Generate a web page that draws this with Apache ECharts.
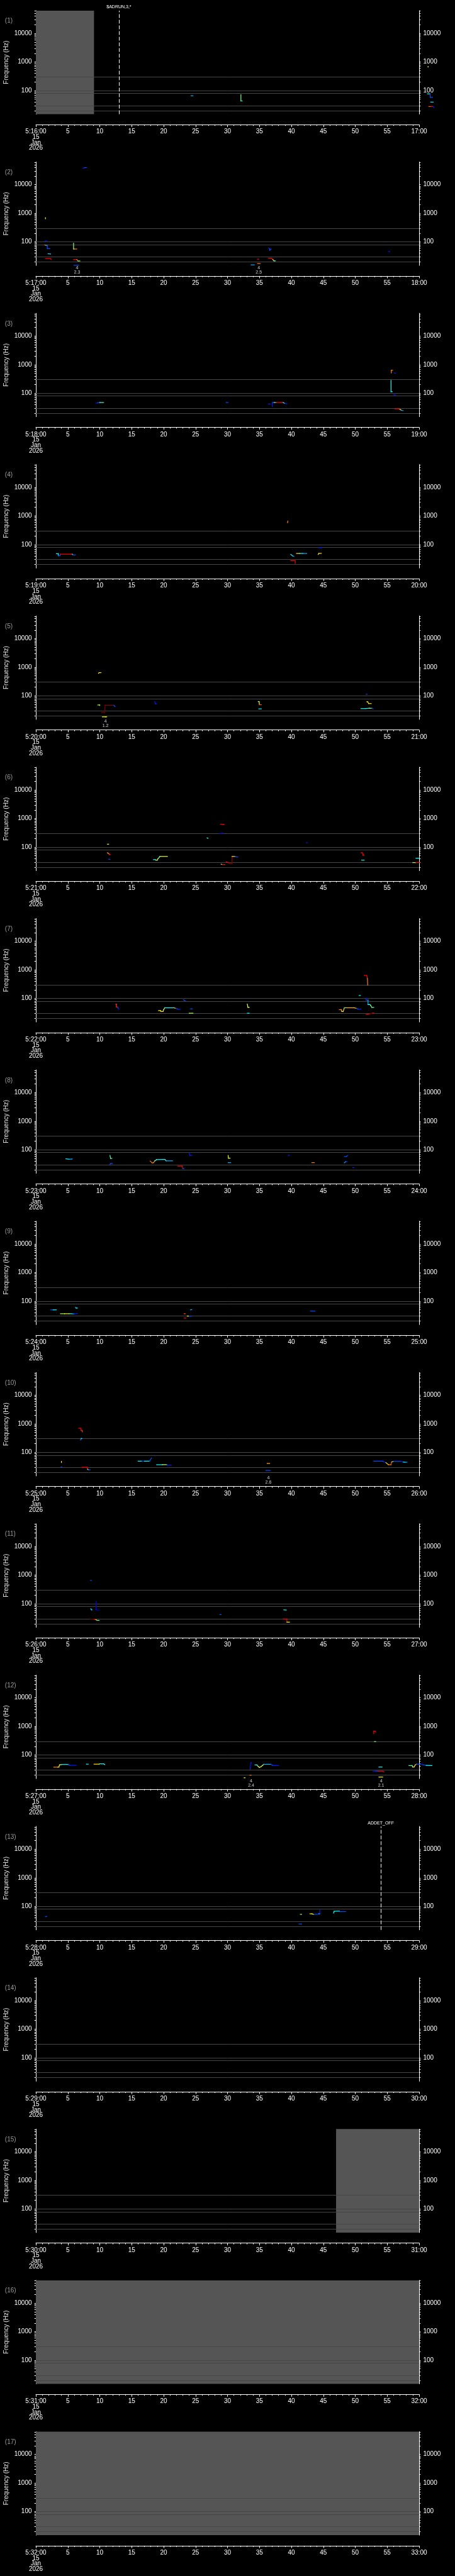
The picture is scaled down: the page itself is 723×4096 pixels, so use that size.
<!DOCTYPE html>
<html>
<head>
<meta charset="utf-8">
<title>Frequency panels 5:16 - 5:33</title>
<script src="https://cdn.jsdelivr.net/npm/echarts@6/dist/echarts.min.js"></script>
<style>
html, body { margin: 0; padding: 0; background: #000; }
#chart { width: 723px; height: 4096px; }
</style>
</head>
<body>
<div id="chart"></div>
<script>
// ---- data ----
var panelMinutes = [16, 17, 18, 19, 20, 21, 22, 23, 24, 25, 26, 27, 28, 29, 30, 31, 32];
var freqMin = 15, freqMax = 62500;
var guideFreqs = [20, 30, 80, 100, 300];
var freqLabels = [100, 1000, 10000];
var freqTicks = [20, 30, 40, 50, 60, 70, 80, 90, 100, 200, 300, 400, 500, 600, 700, 800, 900,
    1000, 2000, 3000, 4000, 5000, 6000, 7000, 8000, 9000, 10000, 20000, 30000, 40000, 50000, 60000];

// [panel index, from sec, to sec]
var shadeSpans = [[0, 0, 9.1], [14, 47, 60], [15, 0, 60], [16, 0, 60]];
// [panel index, sec, text]
var eventLines = [[0, 13, '$ADRUN,3,*'], [12, 54, 'ADDET_OFF']];
// [panel index, sec, line1, line2]
var notes = [[1, 6.45, '4', '2.3'], [1, 34.9, '4', '2.5'], [4, 10.9, '4', '1.2'],
    [9, 36.4, '4', '2.6'], [11, 33.7, '4', '2.4'], [11, 54.05, '4', '2.1']];

// tracks: list of [sec, Hz, level 0..1]
var tracks1 = [
    [[24.3, 66, .3], [24.6, 66, .3]],
    [[32.1, 72, .5], [32.1, 43.5, .375], [32.3, 43.5, .3]],
    [[61.4, 700, .6], [61.4, 660, .6]],
    [[61.3, 77, .4], [61.7, 77, .2], [61.75, 58, .2], [62.1, 58, .35]],
    [[61.8, 39.6, .35], [62.2, 39.6, .15]],
    [[61.5, 27.7, .8], [61.9, 27.7, .9], [62.2, 27.7, .15], [62.3, 25.4, .15]]
];
var tracks2 = [
    [[7.4, 37000, .15], [7.6, 39500, .2], [7.9, 39500, .25]],
    [[1.5, 700, .6], [1.5, 640, .4]],
    [[1.45, 108, .15], [1.7, 108, .15]],
    [[1.4, 78, .75], [1.6, 76, .3], [1.8, 76, .2], [1.8, 58, .2], [2.2, 58, .3]],
    [[1.9, 38.5, .35], [2.3, 38, .15]],
    [[1.5, 26, .875], [2.3, 26, .875], [2.4, 24.2, .15]],
    [[5.9, 91, .5], [5.9, 56.4, .5], [6.0, 56.4, .75], [6.4, 56.4, .6]],
    [[5.9, 24.2, .875], [6.4, 24.2, .75], [6.6, 21.5, .5], [6.9, 21.5, .3]],
    [[5.95, 15.2, .2], [6.7, 15.2, .3]],
    [[33.7, 15.7, .3], [34.2, 15.7, .875]],
    [[34.7, 24.8, .875], [34.9, 24.8, .8]],
    [[34.7, 17.5, .75], [35.1, 17.5, .6]],
    [[36.4, 61, .15], [36.6, 57, .2], [36.6, 51, .2], [36.8, 56, .25]],
    [[36.4, 26.9, .875], [36.9, 26.9, .875], [37.1, 24, .6], [37.3, 21.7, .45], [37.5, 21.7, .3]],
    [[55.2, 46, .15], [55.4, 46, .15]]
];
var tracks3 = [
    [[9.4, 44.7, .15], [9.7, 46.5, .2], [10, 47.3, .45], [10.6, 47.3, .6]],
    [[29.8, 47.3, .2], [30.1, 47.3, .2]],
    [[36.4, 42.2, .15], [36.7, 42.2, .15]],
    [[37.0, 34.2, .15], [37.0, 47.3, .2], [37.3, 47.3, .45], [37.6, 47.3, .875], [38.4, 47.3, .875], [38.7, 47.3, .4], [39.0, 44, .15], [39.3, 42.2, .15]],
    [[55.85, 636, .75], [55.65, 636, .75], [55.65, 514, .8]],
    [[56.1, 514, .15], [56.3, 500, .15]],
    [[55.6, 281, .375], [55.6, 113, .375], [55.8, 113, .375]],
    [[56.0, 89, .15], [56.3, 86, .15]],
    [[56.2, 28.5, .875], [56.8, 28.5, .875], [57.0, 27, .6], [57.2, 25.5, .3], [57.5, 24.7, .15]]
];
var tracks4 = [
    [[3.2, 48, .375], [3.5, 48, .375], [3.5, 40.5, .2], [3.8, 40.5, .2], [3.8, 46, .875], [5.5, 46, .875], [5.7, 46, .375], [5.8, 43.4, .2], [6.2, 43.4, .2]],
    [[39.45, 663, .75], [39.4, 576, .8]],
    [[39.9, 45.3, .375], [40.2, 40, .3], [40.4, 38.3, .15]],
    [[39.9, 27.2, .875], [40.6, 27.2, .875], [40.6, 21.8, .5]],
    [[40.8, 48.7, .65], [41.3, 48.7, .4], [41.8, 48.7, .3], [42.4, 48.7, .375]],
    [[44.2, 45, .65], [44.3, 49, .65], [44.7, 49, .2]],
    [[44.3, 77.5, .15], [44.8, 77.5, .2]]
];
var tracks5 = [
    [[9.8, 610, .65], [9.9, 647, .65], [10.2, 647, .6]],
    [[9.7, 48, .55], [10.0, 48, .55], [10.0, 46, .5]],
    [[10.3, 26.2, 1], [10.75, 26.2, 1], [10.85, 46.7, 1], [12.1, 46.7, 1], [12.2, 46.7, .2], [12.4, 42, .15]],
    [[10.4, 18.4, .625], [10.9, 18.4, .625], [11.1, 18.4, .2]],
    [[18.6, 63, .15], [18.7, 52, .15], [18.9, 52, .15]],
    [[34.8, 63, .55], [34.95, 63, .6], [35.0, 49, .8], [35.3, 49, .875]],
    [[34.9, 35, .375], [35.3, 35, .3]],
    [[51.7, 113.5, .2], [51.85, 113.5, .2]],
    [[51.8, 62, .65], [51.95, 62, .65], [52.1, 53.6, .65], [52.5, 53.6, .2]],
    [[50.9, 35.8, .375], [51.6, 35.8, .375], [52.2, 36.8, .55], [52.6, 36.8, .2], [52.8, 35, .15]]
];
var tracks6 = [
    [[11.2, 127, .6], [11.4, 127, .4]],
    [[11.2, 63.7, .7], [11.4, 60, .8], [11.5, 55, .875], [11.7, 55, .875]],
    [[11.4, 38.3, .2], [11.6, 37.5, .15]],
    [[18.4, 36.7, .375], [18.7, 36.7, .4], [18.8, 35, .65], [19.0, 35, .65], [19.1, 39, .5], [19.3, 44, .45], [19.4, 47.3, .6], [20.6, 47.3, .625]],
    [[26.8, 211, .4], [26.95, 205, .375]],
    [[28.9, 636, .875], [29.3, 620, .875], [29.5, 620, .875]],
    [[28.8, 295, .15], [29.3, 305, .2]],
    [[29.0, 25.5, .5], [29.2, 24.8, .875], [29.6, 24.8, .875]],
    [[29.8, 30.6, .875], [30.2, 28, 1], [30.4, 26.5, 1], [30.7, 26.5, 1], [30.7, 47.3, .65], [31.2, 47.3, .2], [31.6, 45, .15]],
    [[42.35, 144, .15], [42.5, 144, .15]],
    [[50.9, 63.7, .875], [51.1, 63.7, .875], [51.2, 58, .875], [51.2, 52.2, .875], [51.4, 52.2, .875]],
    [[51.0, 35, .375], [51.4, 35, .375]],
    [[59.5, 41, .375], [60.0, 41, .2]],
    [[59.0, 28.8, .55], [59.5, 28.8, .875], [60.1, 28.8, .875]]
];
var tracks7 = [
    [[12.5, 63.6, .875], [12.6, 63.6, .8], [12.6, 50, .875], [12.8, 50, .2], [12.9, 45, .15], [13.0, 42, .15]],
    [[19.2, 37.7, .625], [19.5, 37.7, .65], [19.6, 35.1, .65], [19.9, 35.1, .6], [20.0, 40.5, .55], [20.2, 47.3, .375], [21.6, 47.3, .7], [21.9, 45, .2], [22.3, 42, .15], [22.6, 41.7, .15]],
    [[23.1, 90.6, .2], [23.4, 82, .15]],
    [[24.2, 43.4, .2], [24.5, 43.4, .2]],
    [[24.0, 30.5, .55], [24.6, 30.5, .625]],
    [[33.1, 63.6, .6], [33.2, 49, .6], [33.4, 48.7, .6]],
    [[33.1, 30.5, .375], [33.4, 30.5, .4]],
    [[50.6, 127, .375], [50.8, 127, .375]],
    [[51.4, 636, .875], [51.8, 636, .875], [51.9, 500, .75], [51.95, 293, .625]],
    [[51.7, 104, .15], [51.7, 88, .2], [52.0, 88, .3], [52.0, 61, .375], [52.3, 61, .45], [52.4, 57.6, .5], [52.6, 48.7, .45], [52.9, 48.7, .55]],
    [[51.7, 27.7, .875], [52.2, 28.5, 1], [52.7, 30.5, .875], [52.9, 31, .15]],
    [[47.5, 40.5, .75], [47.8, 40.5, .7], [47.9, 35, .65], [48.1, 35, .65], [48.3, 47.3, .375], [48.5, 47.3, .7], [49.8, 47.3, .7], [50.2, 45, .2], [50.5, 42.2, .15], [50.9, 42.2, .2]]
];
var tracks8 = [
    [[4.7, 48.6, .375], [5.2, 46.6, .3], [5.7, 47.5, .2]],
    [[11.6, 63.6, .45], [11.7, 50, .45], [11.9, 50, .45]],
    [[11.6, 31, .2], [11.7, 33, .2], [12.0, 33, .2]],
    [[17.9, 40.5, .75], [18.2, 35.1, .75], [18.4, 35.1, .75], [18.6, 40.5, .45], [18.9, 45.4, .375], [19.9, 46, .375], [20.2, 46, .4], [20.4, 41, .3], [21.4, 41, .2]],
    [[22.2, 26.9, .875], [22.9, 26.9, .875], [23.0, 22, .2], [23.2, 22, .2]],
    [[24.0, 77.5, .15], [24.1, 63.6, .15], [24.4, 63.6, .2]],
    [[30.1, 63.6, .6], [30.15, 50.8, .6], [30.4, 50.8, .6]],
    [[30.1, 35.6, .3], [30.5, 35.6, .3]],
    [[39.5, 63.6, .15], [39.7, 63.6, .2]],
    [[43.2, 35.6, .75], [43.6, 35.6, .7]],
    [[48.3, 58, .2], [48.6, 58, .2], [48.8, 63, .15]],
    [[48.3, 35, .3], [48.5, 38.3, .2], [48.7, 38.3, .2]],
    [[49.6, 24, .15], [49.8, 24, .15]]
];
var tracks9 = [
    [[2.3, 49.4, .2], [2.7, 49.4, .375], [3.2, 49.4, .3]],
    [[3.85, 36.2, .55], [4.5, 36.2, .6], [5.2, 36.2, .45], [5.6, 36.2, .3], [6.0, 35.5, .15], [6.5, 37, .2]],
    [[6.2, 61, .3], [6.3, 57, .375], [6.5, 57, .3]],
    [[23.2, 36.2, .8], [23.4, 36.2, .8]],
    [[23.2, 25.4, .875], [23.5, 25.4, .7]],
    [[23.7, 30, .625], [24.0, 30, .2], [24.4, 30, .15]],
    [[24.2, 49.4, .3], [24.4, 50.5, .2]],
    [[43.0, 44.7, .2], [43.7, 44.7, .3]]
];
var tracks10 = [
    [[6.7, 700, .875], [7.0, 700, .875], [7.05, 600, .875], [7.2, 594, .8], [7.3, 522, .65]],
    [[7.0, 272, .25], [7.1, 305, .375], [7.2, 305, .3]],
    [[4.0, 48.6, .65], [4.0, 44, .4]],
    [[3.95, 31, .2], [4.05, 31, .2]],
    [[7.2, 30.2, .875], [8.0, 30.2, .875], [8.1, 25.8, .55], [8.2, 24.7, .2], [8.5, 24.7, .15]],
    [[16.0, 49.4, .375], [16.6, 49.4, .2], [17.0, 49.4, .375], [17.8, 49.4, .2], [18.1, 63.6, .15]],
    [[18.9, 37.2, .375], [19.8, 37.2, .55], [20.5, 37.5, .2], [20.6, 35.6, .15], [21.2, 35.6, .15]],
    [[36.2, 41, .7], [36.6, 41, .625]],
    [[36.0, 23.3, .2], [36.7, 23.3, .375]],
    [[52.9, 49.4, .2], [54.3, 49.4, .2], [54.5, 46.6, .15], [54.8, 44, .65], [55.2, 37.2, .75], [55.6, 37.2, .8], [55.7, 46.6, .55], [56.0, 48.6, .2], [57.2, 48.6, .15], [57.5, 46, .375], [57.8, 45.4, .3], [58.1, 45.4, .2]]
];
var tracks11 = [
    [[8.55, 655, .2], [8.7, 655, .2]],
    [[9.4, 118, .1], [9.4, 61, .1], [9.9, 60, .15]],
    [[8.6, 67, .375], [8.7, 61, .3], [8.8, 61, .2]],
    [[8.5, 29.3, 1], [9.2, 28, .875], [9.4, 27.5, .65], [9.6, 26.2, .45], [9.9, 26.2, .2]],
    [[28.8, 41.6, .2], [29.0, 41.6, .2]],
    [[38.8, 61, .375], [39.2, 60, .3]],
    [[38.7, 29.3, .875], [39.3, 29.3, .875], [39.3, 22.7, .625], [39.7, 22.7, .2]]
];
var tracks12 = [
    [[2.8, 37.7, .75], [3.4, 37.7, .7], [3.6, 38, .625], [3.7, 45.3, .6], [4.0, 46.7, .375], [5.1, 46.7, .2], [5.3, 43.5, .15], [6.3, 43.5, .15]],
    [[7.9, 48, .375], [8.2, 48, .2]],
    [[9.1, 48, .65], [9.9, 48, .7], [10.0, 49.4, .375], [10.6, 49.4, .4], [10.8, 46, .2]],
    [[33.55, 32.2, .15], [33.65, 53.7, .15], [33.75, 53.7, .15]],
    [[34.3, 45.3, .375], [34.6, 45.3, .45], [34.8, 40, .6], [35.0, 36.7, .625], [35.3, 40, .55], [35.5, 44, .5], [35.7, 47.3, .3], [36.8, 47.3, .2], [37.1, 43, .15], [38.0, 42.9, .2]],
    [[33.5, 19.7, .75], [33.7, 19.7, .15]],
    [[32.6, 16, .625], [32.75, 16, .625]],
    [[52.9, 560, .875], [52.9, 690, .875], [53.1, 690, .875], [53.2, 640, .875]],
    [[53.0, 296, .5], [53.2, 296, .4]],
    [[53.7, 38, .375], [54.2, 38, .2]],
    [[52.8, 27.3, .15], [53.3, 27.3, .2], [53.6, 27.3, .875], [54.3, 27.3, .875], [54.5, 25.8, .15]],
    [[53.7, 17, .625], [54.3, 17, .2]],
    [[58.4, 42.9, .45], [58.9, 42.9, .5], [59.0, 38.3, .625], [59.2, 38.3, .65], [59.4, 45.3, .7], [59.6, 48, .2], [60.2, 48, .15], [60.6, 46, .2], [61.1, 43.5, .375], [62.0, 42.9, .2]]
];
var tracks13 = [
    [[1.5, 43.5, .2], [1.7, 44.5, .25]],
    [[41.4, 52.6, .55], [41.6, 52.6, .45]],
    [[41.2, 24.2, .2], [41.6, 24.2, .25]],
    [[42.9, 55, .65], [43.2, 55, .625], [43.5, 52.6, .2], [44.1, 52.6, .15], [44.3, 55, .375], [44.45, 55, .15], [44.45, 73.6, .15]],
    [[46.6, 58, .375], [46.7, 67.4, .375], [47.5, 68.4, .3], [47.6, 65.5, .2], [48.5, 65.5, .2]]
];
var panelTracks = [tracks1, tracks2, tracks3, tracks4, tracks5, tracks6, tracks7, tracks8,
    tracks9, tracks10, tracks11, tracks12, tracks13, [], [], [], []];

// jet-like colour scale for the intensity level
var levelColors = ['#00008f', '#0000ff', '#0080ff', '#00ffff', '#80ff80', '#ffff00', '#ff8000', '#ff0000', '#800000'];

// ---- layout ----
var LEFT = 57, PLOT_W = 609, TOP0 = 16.9, PITCH = 240.6, PLOT_H = 164.6;
var FONT = 'Liberation Sans, Arial, sans-serif';

function toSegments(tracks) {
    var out = [];
    tracks.forEach(function (tr) {
        for (var i = 0; i < tr.length - 1; i++) {
            out.push([tr[i][0], tr[i][1], tr[i + 1][0], tr[i + 1][1], tr[i][2]]);
        }
    });
    return out;
}

var chart = echarts.init(document.getElementById('chart'));
var grids = [], xAxes = [], yAxes = [], series = [], graphics = [], trackSeries = [];

panelMinutes.forEach(function (m, i) {
    var top = TOP0 + i * PITCH;
    grids.push({ left: LEFT, top: top, width: PLOT_W, height: PLOT_H, containLabel: false });

    xAxes.push({
        gridIndex: i, type: 'value', min: 0, max: 60, interval: 5, offset: 16.7,
        axisLine: { lineStyle: { color: '#fff', width: 1 } },
        axisTick: { length: 3.7, lineStyle: { color: '#fff' } },
        minorTick: { show: true, splitNumber: 5, length: 2, lineStyle: { color: '#fff' } },
        splitLine: { show: false },
        axisLabel: {
            color: '#fff', fontSize: 10, fontFamily: FONT, margin: 7, lineHeight: 8.7,
            showMinLabel: true, showMaxLabel: true,
            formatter: function (v) {
                if (v === 0) return '5:' + m + ':00\n15\nJan\n2026';
                if (v === 60) return (m + 1) + ':00';
                return String(v);
            }
        }
    });

    ['left', 'right'].forEach(function (pos) {
        yAxes.push({
            gridIndex: i, type: 'log', logBase: 10, min: freqMin, max: freqMax, position: pos,
            axisLine: { show: true, lineStyle: { color: '#fff', width: 1 } },
            axisTick: { show: true, length: 2.3, customValues: freqTicks, lineStyle: { color: '#fff' } },
            splitLine: { show: false },
            axisLabel: {
                color: '#fff', fontSize: 10, fontFamily: FONT, margin: 6.5,
                showMinLabel: false, showMaxLabel: false,
                formatter: function (v) {
                    var r = Math.round(v);
                    return freqLabels.indexOf(r) >= 0 ? String(r) : '';
                }
            }
        });
    });

    // shading + guide lines + event lines
    var areas = shadeSpans.filter(function (s) { return s[0] === i; }).map(function (s) {
        return [{ xAxis: s[1] }, { xAxis: s[2] }];
    });
    var lines = guideFreqs.map(function (f) {
        return { yAxis: f, lineStyle: { color: '#454545', width: 1, type: 'solid' }, label: { show: false } };
    });
    eventLines.filter(function (e) { return e[0] === i; }).forEach(function (e) {
        lines.push({
            xAxis: e[1],
            lineStyle: { color: '#fff', width: 1, type: [6, 3] },
            label: { show: true, position: 'end', formatter: e[2], color: '#fff', fontSize: 7, fontFamily: FONT, distance: 2 }
        });
    });
    series.push({
        type: 'line', xAxisIndex: i, yAxisIndex: 2 * i, data: [], silent: true,
        markArea: { silent: true, itemStyle: { color: '#555555' }, data: areas },
        markLine: { silent: true, symbol: ['none', 'none'], z: 3, animation: false, label: { show: false }, data: lines }
    });

    // tracks
    trackSeries.push(series.length);
    series.push({
        type: 'custom', xAxisIndex: i, yAxisIndex: 2 * i, z: 10, clip: false, silent: true,
        dimensions: ['t1', 'f1', 't2', 'f2', 'level'],
        encode: { x: [0, 2], y: [1, 3] },
        data: toSegments(panelTracks[i]),
        renderItem: function (params, api) {
            var a = api.coord([api.value(0), api.value(1)]);
            var b = api.coord([api.value(2), api.value(3)]);
            return {
                type: 'line',
                shape: { x1: a[0], y1: a[1], x2: b[0], y2: b[1] },
                style: { stroke: api.visual('color'), lineWidth: 1.2, lineCap: 'square' }
            };
        }
    });

    // notes under the plot
    var nd = notes.filter(function (n) { return n[0] === i; }).map(function (n) {
        return [n[1], freqMin, n[2] + '\n' + n[3]];
    });
    if (nd.length) {
        series.push({
            type: 'scatter', xAxisIndex: i, yAxisIndex: 2 * i, symbolSize: 0, clip: false, silent: true,
            data: nd,
            label: {
                show: true, position: 'bottom', distance: 0, color: '#fff', fontSize: 7, lineHeight: 7,
                fontFamily: FONT, formatter: function (p) { return p.data[2]; }
            }
        });
    }

    graphics.push({
        type: 'text', x: 7.8, y: top + 16.7, silent: true,
        style: { text: '(' + (i + 1) + ')', fill: '#9a9a9a', fontSize: 10, fontFamily: FONT, align: 'left', verticalAlign: 'middle' }
    });
    graphics.push({
        type: 'text', x: 10.6, y: top + PLOT_H / 2, rotation: Math.PI / 2, silent: true,
        style: { text: 'Frequency (Hz)', fill: '#e0e0e0', fontSize: 10, fontFamily: FONT, align: 'center', verticalAlign: 'middle' }
    });
});

chart.setOption({
    backgroundColor: '#000',
    animation: false,
    grid: grids,
    xAxis: xAxes,
    yAxis: yAxes,
    visualMap: {
        type: 'continuous', show: false, dimension: 4, min: 0, max: 1,
        seriesIndex: trackSeries, inRange: { color: levelColors }
    },
    graphic: graphics,
    series: series
});
</script>
</body>
</html>
